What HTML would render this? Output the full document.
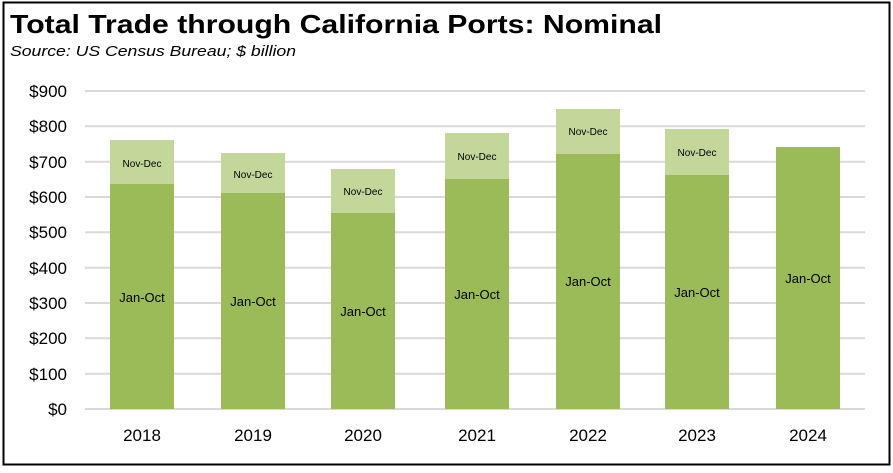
<!DOCTYPE html>
<html><head><style>
body{margin:0;background:#fff;}
</style></head><body>
<svg width="893" height="468" xmlns="http://www.w3.org/2000/svg" font-family="Liberation Sans, sans-serif">
<rect x="3.5" y="2.5" width="886" height="462" fill="#fff" stroke="#000" stroke-width="2"/>
<text x="10" y="33" font-size="26" font-weight="bold" fill="#000" textLength="652" lengthAdjust="spacingAndGlyphs">Total Trade through California Ports:  Nominal</text>
<text x="10" y="56" font-size="15" font-style="italic" fill="#000" textLength="286" lengthAdjust="spacingAndGlyphs">Source:  US Census Bureau; $ billion</text>
<g stroke="#d9d9d9" stroke-width="2">
<line x1="85" y1="91" x2="865" y2="91"/><line x1="85" y1="126.3" x2="865" y2="126.3"/>
<line x1="85" y1="161.7" x2="865" y2="161.7"/><line x1="85" y1="197" x2="865" y2="197"/>
<line x1="85" y1="232.3" x2="865" y2="232.3"/><line x1="85" y1="267.7" x2="865" y2="267.7"/>
<line x1="85" y1="303" x2="865" y2="303"/><line x1="85" y1="338.3" x2="865" y2="338.3"/>
<line x1="85" y1="373.7" x2="865" y2="373.7"/><line x1="85" y1="409" x2="865" y2="409"/>
</g>
<g font-size="17" fill="#000" text-anchor="end">
<text x="67" y="97">$900</text><text x="67" y="132">$800</text><text x="67" y="168">$700</text>
<text x="67" y="203">$600</text><text x="67" y="238">$500</text><text x="67" y="274">$400</text>
<text x="67" y="309">$300</text><text x="67" y="344">$200</text><text x="67" y="380">$100</text>
<text x="67" y="415">$0</text>
</g>
<g>
<rect x="110" y="140" width="64" height="44" fill="#c4d79b"/><rect x="110" y="184" width="64" height="225" fill="#9bbb59"/>
<rect x="221" y="153" width="64" height="40" fill="#c4d79b"/><rect x="221" y="193" width="64" height="216" fill="#9bbb59"/>
<rect x="331" y="169" width="64" height="44" fill="#c4d79b"/><rect x="331" y="213" width="64" height="196" fill="#9bbb59"/>
<rect x="445" y="133" width="64" height="46" fill="#c4d79b"/><rect x="445" y="179" width="64" height="230" fill="#9bbb59"/>
<rect x="556" y="109" width="64" height="45" fill="#c4d79b"/><rect x="556" y="154" width="64" height="255" fill="#9bbb59"/>
<rect x="665" y="129" width="64" height="46" fill="#c4d79b"/><rect x="665" y="175" width="64" height="234" fill="#9bbb59"/>
<rect x="776" y="147" width="64" height="262" fill="#9bbb59"/>
</g>
<g font-size="10" fill="#000" text-anchor="middle">
<text x="142" y="167">Nov-Dec</text><text x="253" y="178">Nov-Dec</text><text x="363" y="195">Nov-Dec</text>
<text x="477" y="160">Nov-Dec</text><text x="588" y="135">Nov-Dec</text><text x="697" y="156">Nov-Dec</text>
</g>
<g font-size="13" fill="#000" text-anchor="middle">
<text x="142" y="302">Jan-Oct</text><text x="253" y="306">Jan-Oct</text><text x="363" y="316">Jan-Oct</text>
<text x="477" y="299">Jan-Oct</text><text x="588" y="286">Jan-Oct</text><text x="697" y="297">Jan-Oct</text>
<text x="808" y="283">Jan-Oct</text>
</g>
<g font-size="17" fill="#000" text-anchor="middle">
<text x="142" y="441">2018</text><text x="253" y="441">2019</text><text x="363" y="441">2020</text>
<text x="477" y="441">2021</text><text x="588" y="441">2022</text><text x="697" y="441">2023</text>
<text x="808" y="441">2024</text>
</g>
</svg>
</body></html>
